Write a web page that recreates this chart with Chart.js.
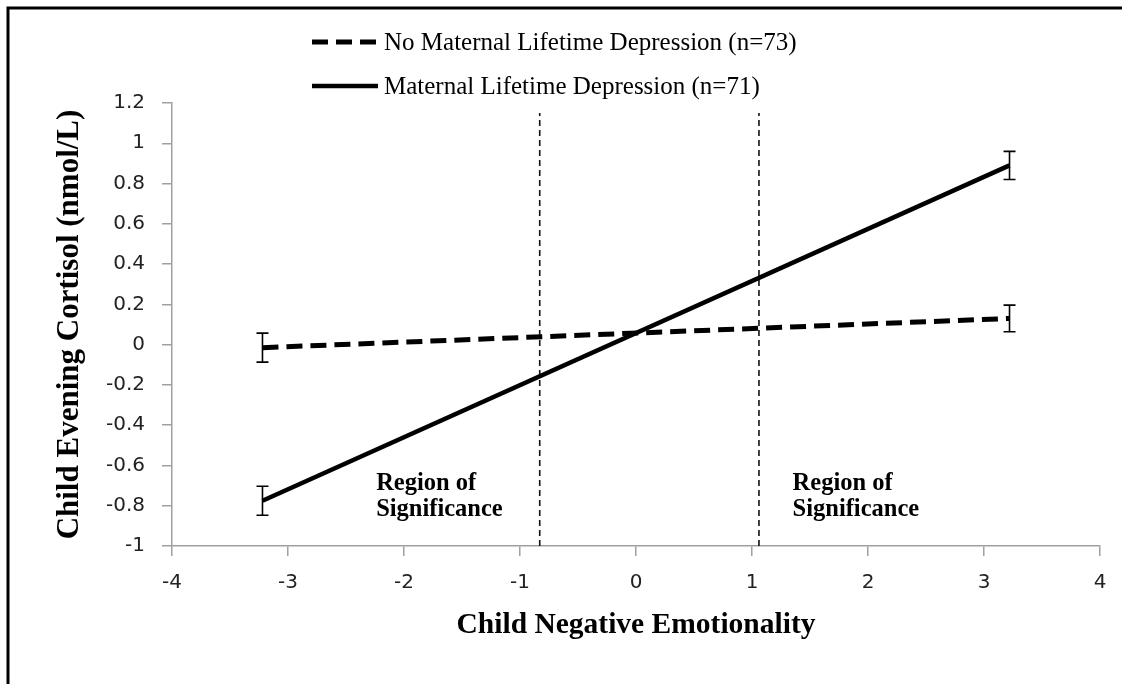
<!DOCTYPE html>
<html>
<head>
<meta charset="utf-8">
<script src="https://cdn.jsdelivr.net/npm/chart.js@4.4.1/dist/chart.umd.min.js"></script>
<style>
html, body { margin: 0; padding: 0; background: #fff; }
#wrap { width: 1122px; height: 684px; }
</style>
</head>
<body>
<div id="wrap"><canvas id="chart" width="1122" height="684"></canvas></div>
<script>
// values
const emotionality = [-3.22, 3.22]
const noDepression = [-0.015, 0.13]
const noDepressionErr = [0.072, 0.066]
const depression = [-0.775, 0.89]
const depressionErr = [0.072, 0.07]
const significanceBounds = [-0.83, 1.06]
const significanceTop = 1.15
const xTicks = [-4, -3, -2, -1, 0, 1, 2, 3, 4]
const yTicks = [-1, -0.8, -0.6, -0.4, -0.2, 0, 0.2, 0.4, 0.6, 0.8, 1, 1.2]
const seriesLabels = [`No Maternal Lifetime Depression (n=73)`, `Maternal Lifetime Depression (n=71)`]
const regionText = [`Region of`, `Significance`]
const regionAnchors = [{x: -2.24, y: -0.72}, {x: 1.35, y: -0.72}]

const SERIF = `"Liberation Serif", "DejaVu Serif", serif`
const SANS = `"DejaVu Sans", sans-serif`
const AXIS_GREY = `#a0a0a0`

const toPoints = (xs, ys) => xs.map((x, i) => ({x, y: ys[i]}))

//  white page with the black frame on the top and left edges
const frame = {
	id: `frame`,
	beforeDraw(chart) {
		const {ctx, width, height} = chart
		ctx.save()
		ctx.fillStyle = `#fff`
		ctx.fillRect(0, 0, width, height)
		ctx.strokeStyle = `#000`
		ctx.lineWidth = 3
		ctx.beginPath()
		ctx.moveTo(8, height)
		ctx.lineTo(8, 8)
		ctx.lineTo(width, 8)
		ctx.stroke()
		ctx.restore()
	}
}

//  I-shaped error bars on every dataset that carries an `errors` list
const errorBars = {
	id: `errorBars`,
	afterDatasetsDraw(chart) {
		const {ctx, scales: {x, y}} = chart
		ctx.save()
		ctx.strokeStyle = `#000`
		ctx.lineWidth = 1.6
		chart.data.datasets.forEach(ds => {
			if (!ds.errors) return
			ds.data.forEach((pt, i) => {
				const px = x.getPixelForValue(pt.x)
				const top = y.getPixelForValue(pt.y + ds.errors[i])
				const bottom = y.getPixelForValue(pt.y - ds.errors[i])
				ctx.beginPath()
				ctx.moveTo(px, top)
				ctx.lineTo(px, bottom)
				ctx.moveTo(px - 6, top)
				ctx.lineTo(px + 6, top)
				ctx.moveTo(px - 6, bottom)
				ctx.lineTo(px + 6, bottom)
				ctx.stroke()
			})
		})
		ctx.restore()
	}
}

//  two stacked legend rows, left aligned
const stackedLegend = {
	id: `stackedLegend`,
	afterDraw(chart, args, opts) {
		const {ctx} = chart
		const items = chart.data.datasets.filter(ds => ds.inLegend)
		ctx.save()
		ctx.font = `25px ${SERIF}`
		ctx.textBaseline = `middle`
		ctx.textAlign = `left`
		items.forEach((ds, i) => {
			const y = opts.top + i * opts.rowGap
			ctx.strokeStyle = ds.borderColor
			ctx.lineWidth = ds.borderWidth
			ctx.setLineDash(ds.borderDash || [])
			ctx.beginPath()
			ctx.moveTo(opts.left, y)
			ctx.lineTo(opts.left + opts.sample, y)
			ctx.stroke()
			ctx.setLineDash([])
			ctx.fillStyle = `#000`
			ctx.fillText(ds.label, opts.left + opts.sample + 6, y + 1)
		})
		ctx.restore()
	}
}

//  "Region of Significance" notes, anchored in data space
const regionNotes = {
	id: `regionNotes`,
	afterDatasetsDraw(chart) {
		const {ctx, scales: {x, y}} = chart
		ctx.save()
		ctx.font = `bold 24.5px ${SERIF}`
		ctx.fillStyle = `#000`
		ctx.textAlign = `left`
		ctx.textBaseline = `alphabetic`
		regionAnchors.forEach(a => {
			const px = x.getPixelForValue(a.x)
			const py = y.getPixelForValue(a.y)
			regionText.forEach((line, i) => ctx.fillText(line, px, py + i * 26))
		})
		ctx.restore()
	}
}

Chart.defaults.font.family = SANS
Chart.defaults.color = `#222`

new Chart(document.getElementById(`chart`), {
	type: `line`,
	data: {
		datasets: [
			{
				label: seriesLabels[0],
				data: toPoints(emotionality, noDepression),
				errors: noDepressionErr,
				inLegend: true,
				borderColor: `#000`,
				borderWidth: 5,
				borderDash: [16, 8],
				pointRadius: 0
			},
			{
				label: seriesLabels[1],
				data: toPoints(emotionality, depression),
				errors: depressionErr,
				inLegend: true,
				borderColor: `#000`,
				borderWidth: 4.5,
				pointRadius: 0
			},
			...significanceBounds.map(b => ({
				label: `bound ${b}`,
				data: [{x: b, y: yTicks[0]}, {x: b, y: significanceTop}],
				borderColor: `#111`,
				borderWidth: 1.6,
				borderDash: [6, 4],
				pointRadius: 0
			}))
		]
	},
	options: {
		responsive: false,
		animation: false,
		events: [],
		layout: {padding: {top: 103, right: 22, left: 0, bottom: 0}},
		plugins: {
			legend: {display: false},
			tooltip: {enabled: false},
			stackedLegend: {left: 312, top: 42, rowGap: 44, sample: 66}
		},
		scales: {
			x: {
				type: `linear`,
				min: xTicks[0],
				max: xTicks[xTicks.length - 1],
				afterBuildTicks: axis => { axis.ticks = xTicks.map(value => ({value})) },
				afterFit: axis => { axis.height = 138 },
				ticks: {font: {size: 20}, padding: 15, maxRotation: 0},
				grid: {drawOnChartArea: false, drawTicks: true, tickLength: 10, color: AXIS_GREY, lineWidth: 1.5},
				border: {color: AXIS_GREY, width: 1.5},
				title: {
					display: true,
					text: `Child Negative Emotionality`,
					color: `#000`,
					font: {family: SERIF, size: 29.5, weight: `bold`, lineHeight: 1.2},
					padding: {top: 0, bottom: 41}
				}
			},
			y: {
				min: yTicks[0],
				max: yTicks[yTicks.length - 1],
				afterBuildTicks: axis => { axis.ticks = yTicks.map(value => ({value})) },
				afterFit: axis => { axis.width = 172 },
				ticks: {
					font: {size: 20},
					padding: 17,
					callback: v => String(Number(v.toFixed(1)) || 0)
				},
				grid: {drawOnChartArea: false, drawTicks: true, tickLength: 10, color: AXIS_GREY, lineWidth: 1.5},
				border: {color: AXIS_GREY, width: 1.5},
				title: {
					display: true,
					text: `Child Evening Cortisol (nmol/L)`,
					color: `#000`,
					font: {family: SERIF, size: 31, weight: `bold`, lineHeight: 1.2},
					padding: {top: 51, bottom: 0}
				}
			}
		}
	},
	plugins: [frame, errorBars, regionNotes, stackedLegend]
})
</script>
</body>
</html>
